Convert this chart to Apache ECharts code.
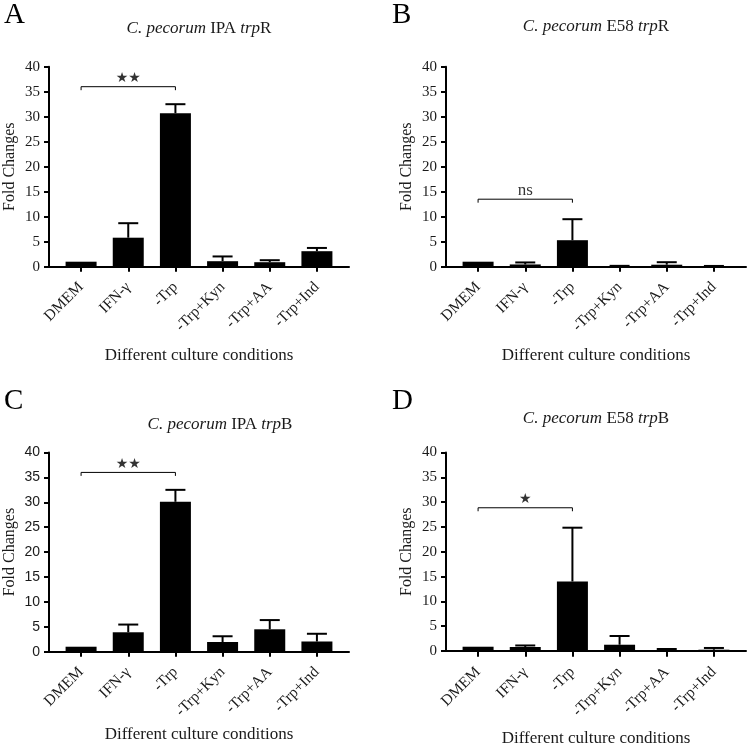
<!DOCTYPE html>
<html>
<head>
<meta charset="utf-8">
<script src="https://cdn.jsdelivr.net/npm/echarts@6/dist/echarts.min.js"></script>
<style>html,body{margin:0;padding:0;background:#fff}#c{width:750px;height:748px}</style>
</head>
<body>
<div id="c"></div>
<script>
// ---- data ----
const categories = ['DMEM', 'IFN-γ', '-Trp', '-Trp+Kyn', '-Trp+AA', '-Trp+Ind'];
const yTicks = [0, 40, 5]; // min, max, interval

const valuesA = [1.0, 5.8, 30.7, 1.1, 0.9, 3.1];
const errorsA = [0, 2.9, 1.8, 0.95, 0.4, 0.65];
const valuesB = [1.0, 0.45, 5.3, 0.05, 0.4, 0.05];
const errorsB = [0, 0.4, 4.2, 0.12, 0.5, 0.1];
const valuesC = [1.0, 3.9, 30.1, 1.95, 4.5, 2.05];
const errorsC = [0, 1.55, 2.4, 1.15, 1.85, 1.55];
const valuesD = [1.0, 0.95, 14.1, 1.4, 0.27, 0.4];
const errorsD = [0, 0.3, 10.8, 1.75, 0.27, 0.35];

const titles = ['{i|C. pecorum} IPA {i|trp}R', '{i|C. pecorum} E58 {i|trp}R', '{i|C. pecorum} IPA {i|trp}B', '{i|C. pecorum} E58 {i|trp}B'];
const letters = ['A', 'B', 'C', 'D'];
const sigFrom = [0, 0, 0, 0];
const sigTo = [2, 2, 2, 2];
const sigLevel = [36, 13.5, 36, 28.9];
const sigText = ['★★', 'ns', '★★', '★'];
const xName = 'Different culture conditions';
const yName = 'Fold Changes';

// ---- layout ----
const SERIF = 'Liberation Serif';
const SANS = 'Liberation Sans';
const panels = [
  {vals: valuesA, errs: errorsA, L: 49, T: 66.7, H: 200, xGap: 80, yFont: SERIF, title: [199, 20], letter: [4, 1]},
  {vals: valuesB, errs: errorsB, L: 446, T: 66.7, H: 200, xGap: 80, yFont: SERIF, title: [596, 18], letter: [392, 1]},
  {vals: valuesC, errs: errorsC, L: 49, T: 452.5, H: 199.2, xGap: 74, yFont: SANS, title: [220, 416], letter: [4, 387]},
  {vals: valuesD, errs: errorsD, L: 446, T: 452.5, H: 199.2, xGap: 79, yFont: SERIF, title: [596, 410], letter: [392, 387]}
];

const grid = [], xAxis = [], yAxis = [], series = [], title = [];
const txt = '#1a1a1a';

panels.forEach((p, k) => {
  const go = 2 * k, gi = 2 * k + 1;
  grid.push({left: p.L, top: p.T, width: 300, height: p.H});
  grid.push({left: p.L + 8.5, top: p.T, width: 283, height: p.H});
  // outer axes (lines, y labels, names)
  xAxis.push({
    type: 'category', gridIndex: go, data: categories,
    axisLine: {show: true, lineStyle: {color: '#000', width: 2}},
    axisTick: {show: false}, axisLabel: {show: false}, splitLine: {show: false},
    name: xName, nameLocation: 'middle', nameGap: p.xGap,
    nameTextStyle: {fontFamily: SERIF, fontSize: 17, color: txt}
  });
  yAxis.push({
    type: 'value', gridIndex: go, min: yTicks[0], max: yTicks[1], interval: yTicks[2],
    axisLine: {show: true, lineStyle: {color: '#000', width: 2}},
    axisTick: {show: true, length: 5, lineStyle: {color: '#000', width: 2}},
    axisLabel: {fontFamily: p.yFont, fontSize: p.yFont === SANS ? 14 : 15, color: txt, margin: 9},
    splitLine: {show: false},
    name: yName, nameLocation: 'middle', nameGap: 31, nameRotate: 90,
    nameTextStyle: {fontFamily: SERIF, fontSize: 16, color: txt}
  });
  // inner axes (bars, category ticks and labels)
  xAxis.push({
    type: 'category', gridIndex: gi, data: categories,
    axisLine: {show: false},
    axisTick: {show: true, alignWithLabel: true, length: 5, lineStyle: {color: '#000', width: 2}},
    axisLabel: {interval: 0, rotate: 45, fontFamily: SERIF, fontSize: 15.5, color: txt, margin: 18},
    splitLine: {show: false}
  });
  yAxis.push({type: 'value', gridIndex: gi, min: yTicks[0], max: yTicks[1], interval: yTicks[2], show: false});

  series.push({
    type: 'bar', xAxisIndex: gi, yAxisIndex: gi, data: p.vals, barWidth: 31,
    itemStyle: {color: '#000'}, silent: true, animation: false
  });
  series.push({
    type: 'custom', xAxisIndex: gi, yAxisIndex: gi, z: 5, animation: false,
    data: p.vals.map((v, i) => [i, v, p.errs[i]]),
    renderItem: (params, api) => {
      const x = api.value(0), v = api.value(1), e = api.value(2);
      if (!(e > 0)) return null;
      const a = api.coord([x, v]), b = api.coord([x, v + e]);
      return {type: 'group', children: [
        {type: 'line', shape: {x1: a[0], y1: a[1], x2: b[0], y2: b[1]}, style: {stroke: '#000', lineWidth: 2}},
        {type: 'line', shape: {x1: b[0] - 10, y1: b[1], x2: b[0] + 10, y2: b[1]}, style: {stroke: '#000', lineWidth: 2}}
      ]};
    }
  });
  const lv = sigLevel[k], drop = 0.7;
  const isNs = sigText[k] === 'ns';
  series.push({
    type: 'line', xAxisIndex: gi, yAxisIndex: gi, symbol: 'none', animation: false, silent: true,
    lineStyle: {color: '#000', width: 1},
    data: [[sigFrom[k], lv - drop], [sigFrom[k], lv], [sigTo[k], lv], [sigTo[k], lv - drop]]
  });
  series.push({
    type: 'scatter', xAxisIndex: gi, yAxisIndex: gi, symbolSize: 1, animation: false, silent: true,
    itemStyle: {color: 'rgba(0,0,0,0)'},
    data: [[(sigFrom[k] + sigTo[k]) / 2, lv]],
    label: {show: true, position: 'top', distance: isNs ? 0 : 1,
      formatter: () => sigText[k],
      fontFamily: isNs ? SERIF : 'DejaVu Sans',
      fontSize: isNs ? 17 : 14, color: '#000'}
  });
  title.push({
    text: titles[k], left: p.title[0], top: p.title[1], textAlign: 'center', padding: 0,
    textStyle: {fontFamily: SERIF, fontSize: 17, fontWeight: 'normal', color: txt,
      rich: {i: {fontFamily: SERIF, fontSize: 17, fontStyle: 'italic', color: txt}}}
  });
  title.push({
    text: letters[k], left: p.letter[0], top: p.letter[1], padding: 0,
    textStyle: {fontFamily: SERIF, fontSize: 29, fontWeight: 'normal', color: '#000'}
  });
});

const chart = echarts.init(document.getElementById('c'), null, {renderer: 'canvas'});
chart.setOption({animation: false, backgroundColor: '#fff', title, grid, xAxis, yAxis, series});
</script>
</body>
</html>
